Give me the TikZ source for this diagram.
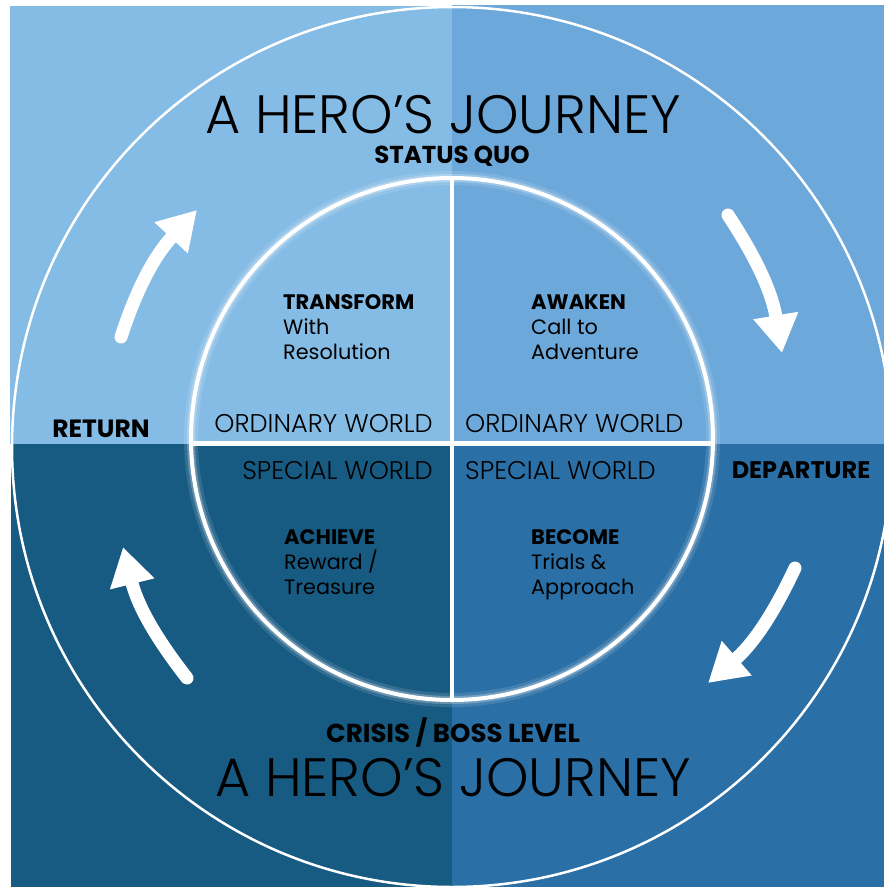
\documentclass[tikz,border=0pt]{standalone}
\usepackage{fontspec}
\setmainfont{Poppins}
\IfFontExistsTF{Poppins Light}{\newfontfamily\thinfont{Poppins Light}}{\newfontfamily\thinfont{Poppins}}
\usetikzlibrary{arrows.meta,calc}

\definecolor{qTL}{RGB}{133,188,229}
\definecolor{qTR}{RGB}{108,168,218}
\definecolor{qBL}{RGB}{23,91,131}
\definecolor{qBR}{RGB}{42,111,165}

\tikzset{
  bigtitle/.style={font=\thinfont\fontsize{54}{60}\selectfont, inner sep=0pt, anchor=base, text depth=0pt},
  stage/.style={font=\bfseries\fontsize{25}{30}\selectfont, inner sep=0pt, anchor=base, text height=18pt},
  world/.style={font=\thinfont\fontsize{25.6}{30}\selectfont, inner sep=0pt},
  qhead/.style={font=\bfseries\fontsize{21}{25}\selectfont, inner sep=0pt, anchor=base west},
  qtext/.style={font=\fontsize{20.8}{25}\selectfont, inner sep=0pt, anchor=base west},
  cyclearrow/.style={white, line width=13pt, line cap=round,
    -{Triangle[width=43pt,length=38pt]}},
}

\begin{document}
\begin{tikzpicture}[x=1pt,y=-1pt]
\useasboundingbox (0,0) rectangle (884,887);

% four background quadrants
\fill[qTL] (10,6) rectangle (452,444);
\fill[qTR] (452,5) rectangle (884,444);
\fill[qBL] (11,444) rectangle (452,887);
\fill[qBR] (452,444) rectangle (884,887);

% outer ring
\draw[white, line width=2.5pt] (452,447) circle[radius=440];

% inner circle with a soft glow
\coordinate (ic) at (452,439);
\draw[white, opacity=0.12, line width=14pt] (ic) circle[radius=261];
\draw[white, opacity=0.25, line width=8pt] (ic) circle[radius=261];
\draw[white, line width=4pt] (ic) circle[radius=261];

% cross dividing the inner circle
\draw[white, line width=5pt] (191,443) -- (713,443);
\draw[white, line width=3.5pt] (452,178) -- (452,700);

% clockwise arrows around the cycle (tail and tip points)
\coordinate (tlA) at (121,337); \coordinate (tlB) at (197,210);
\coordinate (trA) at (728,215); \coordinate (trB) at (782,353);
\coordinate (brA) at (795,568); \coordinate (brB) at (708,683);
\coordinate (blA) at (187,678); \coordinate (blB) at (123,547);
\draw[cyclearrow] (tlA) to[out=72, in=-133] (tlB);
\draw[cyclearrow] (trA) to[out=-56.6, in=99.4] (trB);
\draw[cyclearrow] (brA) to[out=-115.1, in=40.9] (brB);
\draw[cyclearrow] (blA) to[out=128, in=-76] (blB);

% titles
\node[bigtitle] (toptitle) at (443,133) {A HERO’S JOURNEY};
\node[stage, font=\bfseries\fontsize{24.5}{30}\selectfont] (status) at (452,163) {STATUS QUO};
\node[stage, font=\bfseries\fontsize{26}{30}\selectfont] (crisis) at (453,742) {CRISIS / BOSS LEVEL};
\node[bigtitle] (bottitle) at (453,796) {A HERO’S JOURNEY};
\node[stage] (return) at (101,437) {RETURN};
\node[stage, font=\bfseries\fontsize{24}{30}\selectfont] (departure) at (801,478) {DEPARTURE};

% worlds
\node[world, anchor=base east] (ordL) at (433,432) {ORDINARY WORLD};
\node[world, anchor=base west] (ordR) at (465,432) {ORDINARY WORLD};
\node[world, anchor=base east] (speL) at (433,479) {SPECIAL WORLD};
\node[world, anchor=base west] (speR) at (465,479) {SPECIAL WORLD};

% quadrant stages
\node[qhead] (transform) at (283,309) {TRANSFORM};
\node[qtext] (transform1) at (283,334) {With};
\node[qtext] (transform2) at (283,359) {Resolution};

\node[qhead] (awaken) at (531,309) {AWAKEN};
\node[qtext] (awaken1) at (531,334) {Call to};
\node[qtext] (awaken2) at (531,359) {Adventure};

\node[qhead] (achieve) at (284,544) {ACHIEVE};
\node[qtext] (achieve1) at (284,569) {Reward /};
\node[qtext] (achieve2) at (284,594) {Treasure};

\node[qhead] (become) at (531,544) {BECOME};
\node[qtext] (become1) at (531,569) {Trials \&};
\node[qtext] (become2) at (531,594) {Approach};
\end{tikzpicture}
\end{document}
